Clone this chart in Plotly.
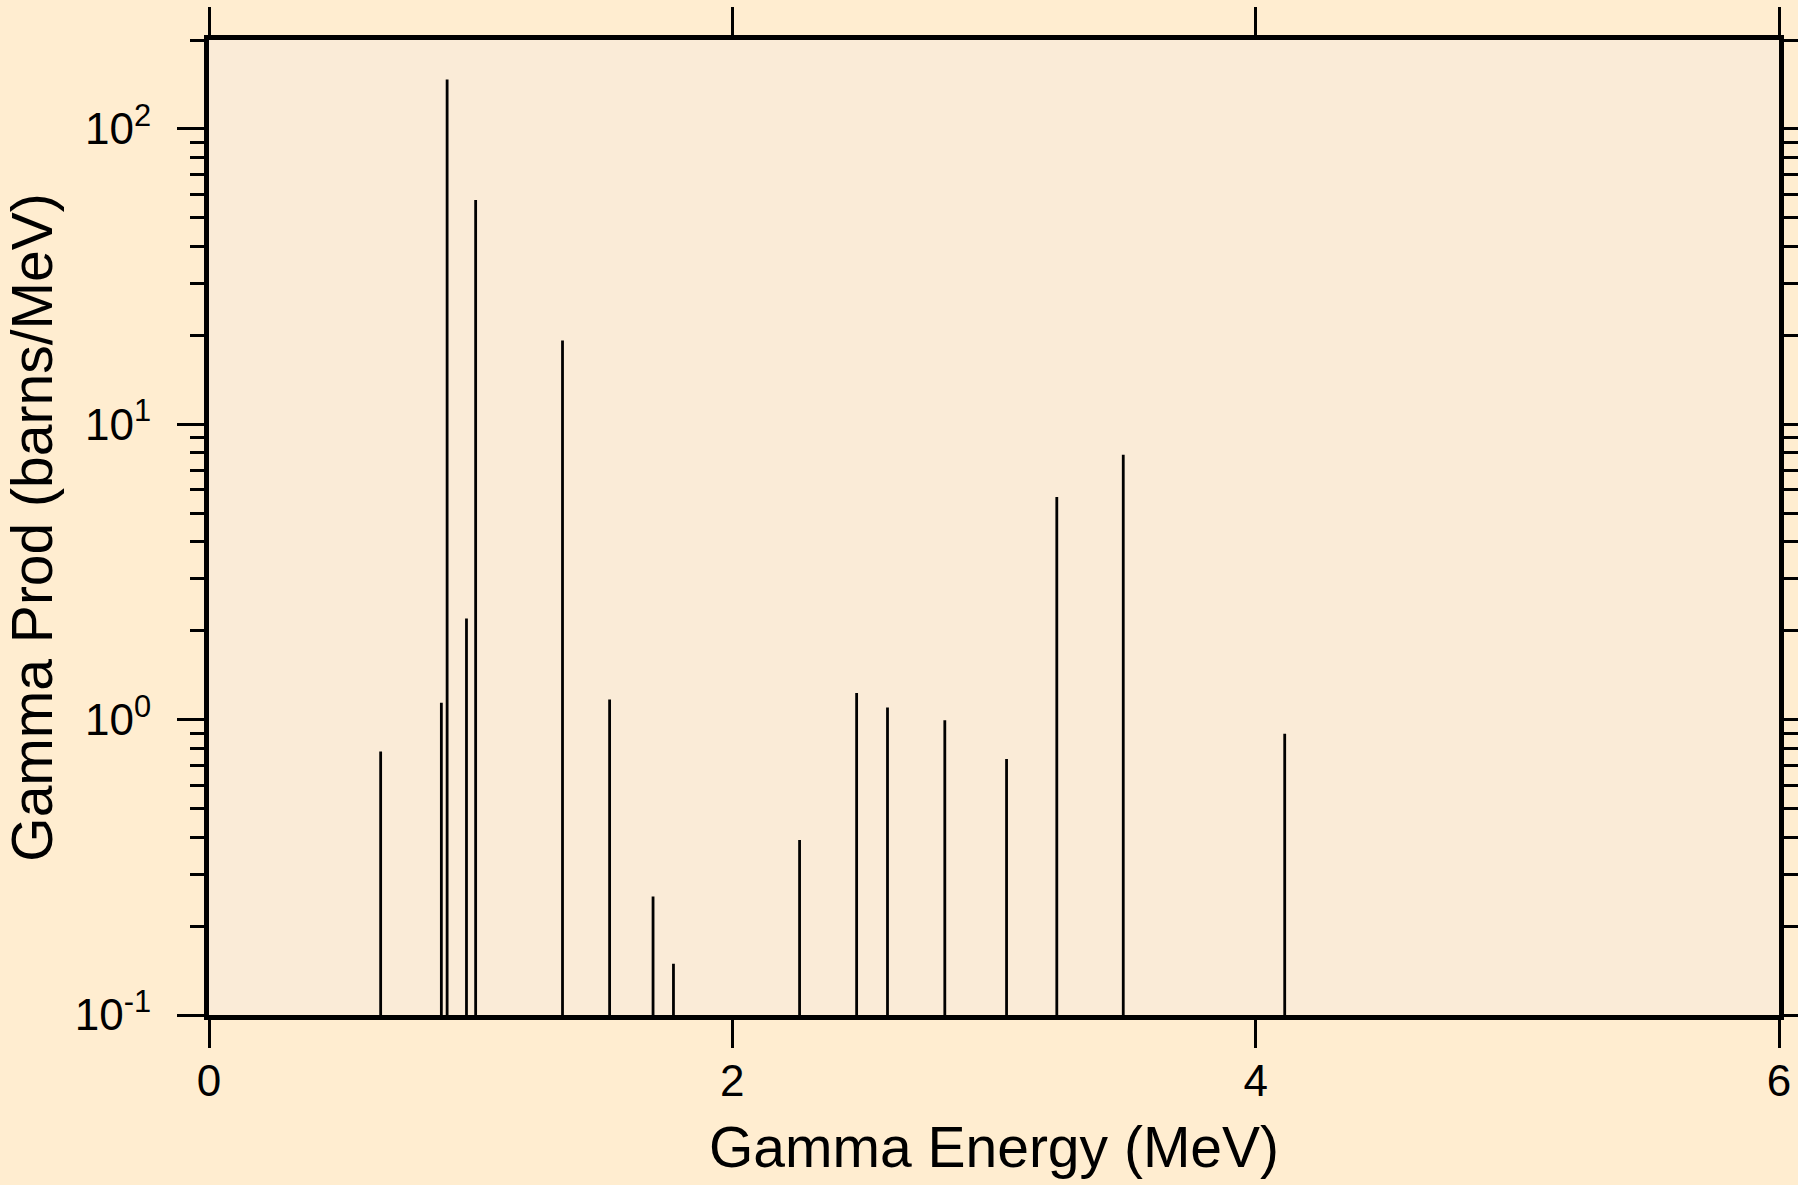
import plotly.graph_objects as go

# Gamma line energies (MeV) and production cross sections (barns/MeV)
energies = [0.656, 0.888, 0.910, 0.984, 1.019, 1.351, 1.531, 1.697, 1.775,
            2.257, 2.475, 2.593, 2.812, 3.048, 3.240, 3.494, 4.111]
values = [0.78, 1.14, 147.0, 2.2, 57.5, 19.2, 1.17, 0.252, 0.149,
          0.391, 1.23, 1.10, 0.996, 0.736, 5.67, 7.88, 0.895]
baseline = 0.01  # below the axis floor, so the spikes rise from the bottom axis

x_ticks = [0, 2, 4, 6]
x_ticktext = ["0", "2", "4", "6"]
y_ticks = [0.1, 1, 10, 100]
y_ticktext = ["10<sup>-1</sup>", "10<sup>0</sup>", "10<sup>1</sup>", "10<sup>2</sup>"]
y_minor = [m * d for d in [0.1, 1, 10] for m in range(2, 10)] + [200]

xs, ys = [], []
for e, v in zip(energies, values):
    xs += [e, e, None]
    ys += [baseline, v, None]

fig = go.Figure()
fig.add_trace(go.Scatter(x=xs, y=ys, mode="lines",
                         line=dict(color="black", width=2.8),
                         hoverinfo="skip", showlegend=False))

font_family = "Liberation Sans, Arial, sans-serif"
fig.update_layout(
    width=1798, height=1185,
    margin=dict(l=209, r=19, t=40, b=170),
    paper_bgcolor="#FFEDD0",
    plot_bgcolor="#FAEBD7",
    font=dict(family=font_family, color="black", size=44),
    showlegend=False,
)
fig.update_xaxes(
    range=[0, 6], tickmode="array", tickvals=x_ticks, ticktext=x_ticktext,
    ticks="outside", ticklen=28, tickwidth=2.5, tickcolor="black",
    ticklabelstandoff=-5, automargin=False,
    showline=True, linewidth=5, linecolor="black", mirror="ticks",
    showgrid=False, zeroline=False,
    tickfont=dict(size=44),
    title=dict(text="Gamma Energy (MeV)", font=dict(size=57), standoff=25),
)
fig.update_yaxes(
    type="log", range=[-1, 2.30103],
    tickmode="array", tickvals=y_ticks, ticktext=y_ticktext,
    ticks="outside", ticklen=27, tickwidth=2.5, tickcolor="black",
    ticklabelstandoff=17, automargin=False,
    minor=dict(tickmode="array", tickvals=y_minor, ticks="outside",
               ticklen=14, tickwidth=2.5, tickcolor="black", showgrid=False),
    showline=True, linewidth=5, linecolor="black", mirror="ticks",
    showgrid=False, zeroline=False,
    tickfont=dict(size=44),
    title=dict(text="Gamma Prod (barns/MeV)", font=dict(size=57), standoff=40),
)

fig.write_html("out.html", config={"displayModeBar": False})

# remove the default page margin so the figure fills the window exactly
with open("out.html", "r", encoding="utf-8") as f:
    html = f.read()
html = html.replace("<head>", "<head><style>html,body{margin:0;padding:0;overflow:hidden;}</style>", 1)
with open("out.html", "w", encoding="utf-8") as f:
    f.write(html)
